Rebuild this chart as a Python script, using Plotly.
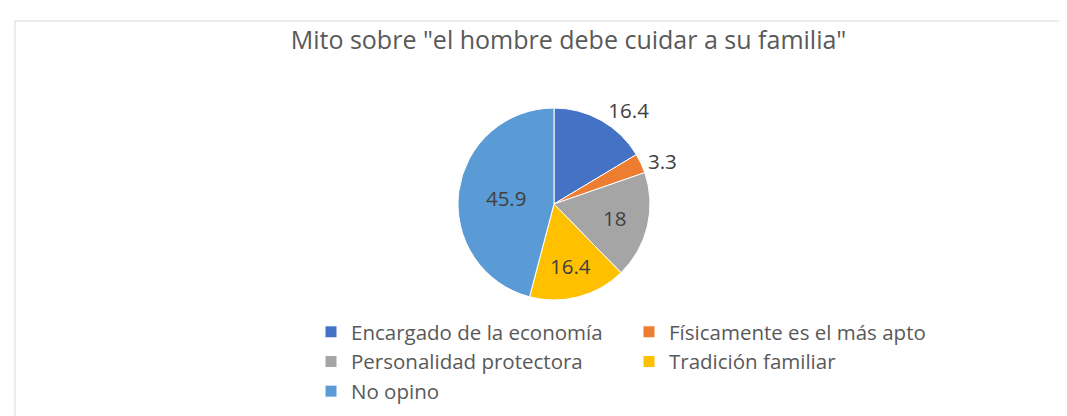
import plotly.graph_objects as go

categories = ["Encargado de la economía", "Físicamente es el más apto",
              "Personalidad protectora", "Tradición familiar", "No opino"]
values = [16.4, 3.3, 18, 16.4, 45.9]
value_labels = ["16.4", "3.3", "18", "16.4", "45.9"]
colors = ["#4472C4", "#ED7D31", "#A5A5A5", "#FFC000", "#5B9BD5"]
label_positions = ["outside", "outside", "inside", "inside", "inside"]

W, H = 1067, 416
# plot area chosen so the 2-column legend starts at the left edge of it
ML, MT, PW = 303, 12, 700
MR = W - ML - PW
PH = H - MT

def px_x(x):
    return (x - ML) / PW

def px_y(y):
    return (H - y) / PH

fig = go.Figure()
fig.add_trace(go.Pie(
    labels=categories,
    values=values,
    text=value_labels,
    textinfo="text",
    textposition=label_positions,
    sort=False,
    direction="clockwise",
    rotation=0,
    marker=dict(colors=colors, line=dict(color="#FFFFFF", width=1)),
    textfont=dict(size=20.5, color="#404040", family="Open Sans"),
    insidetextfont=dict(size=20.5, color="#404040", family="Open Sans"),
    outsidetextfont=dict(size=20.5, color="#404040", family="Open Sans"),
    domain=dict(x=[px_x(410), px_x(682)], y=[px_y(292), px_y(100)]),
    hoverinfo="label+value",
    showlegend=True,
))

# chart frame
fig.add_shape(type="rect", xref="paper", yref="paper",
              x0=px_x(7), x1=px_x(1075), y0=-0.02, y1=px_y(13),
              line=dict(color="#D9D9D9", width=1), fillcolor="rgba(0,0,0,0)")

fig.update_layout(
    width=W, height=H,
    margin=dict(l=ML, r=MR, t=MT, b=0),
    paper_bgcolor="#FFFFFF",
    plot_bgcolor="#FFFFFF",
    font=dict(family="Open Sans", color="#595959"),
    title=dict(text='Mito sobre "el hombre debe cuidar a su familia"',
               x=560.5 / W, xanchor="center", y=1 - 32 / H, yanchor="middle",
               font=dict(size=25, color="#595959", family="Open Sans")),
    legend=dict(orientation="h", x=0, xanchor="left",
                y=px_y(304), yanchor="top",
                entrywidth=273, entrywidthmode="pixels",
                font=dict(size=20.5, color="#595959", family="Open Sans"),
                traceorder="normal", bgcolor="rgba(0,0,0,0)"),
)

fig.write_html("out.html")
